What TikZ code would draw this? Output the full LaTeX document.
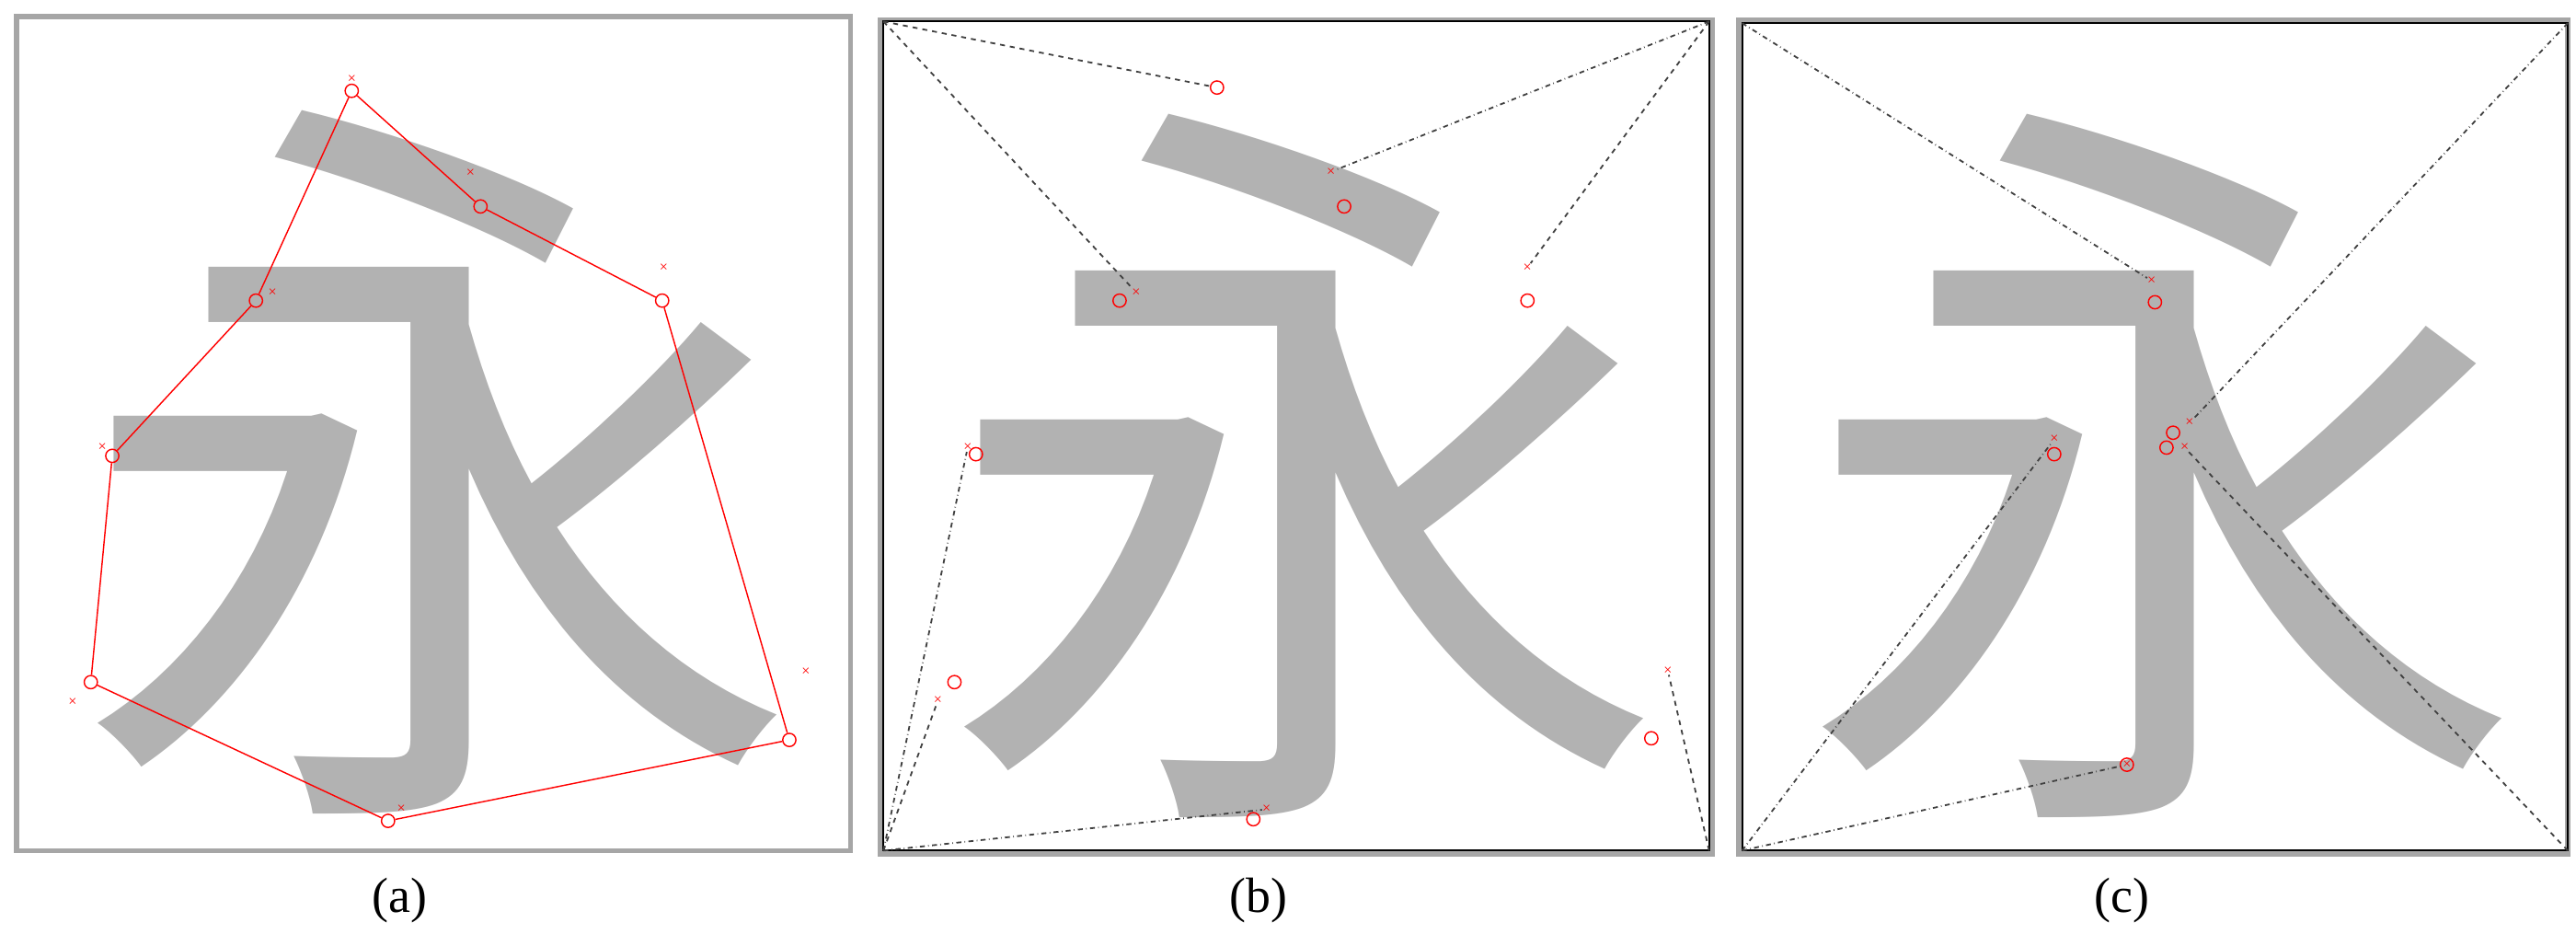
\documentclass[tikz,border=0pt]{standalone}
\usepackage{fontspec}
\setmainfont{Liberation Serif}
\newfontfamily\cjk{Noto Sans CJK SC}
\begin{document}
\begin{tikzpicture}[x=1pt,y=-1pt,
  frame/.style={draw=gray!70,line width=3pt},
  glyph/.style={text=gray!60,font=\cjk\fontsize{465}{465}\selectfont,inner sep=0},
  circ/.style={draw=red,circle,inner sep=0,minimum size=8pt,line width=0.8pt},
  crs/.style={text=red,font=\fontsize{9}{9}\selectfont,inner sep=0},
  dsh/.style={dashed,line width=1pt,black!75},
  dd/.style={dash dot,line width=1pt,black!75},
  lab/.style={font=\fontsize{30}{30}\selectfont}]
\useasboundingbox (0,0) rectangle (1560,565);
\fill[white] (0,0) rectangle (1560,565);
\draw[frame] (10,10) rectangle (515,515);
\draw[frame] (533,12) rectangle (1037,517);
\draw[frame] (1053,12) rectangle (1555,517);
\draw[black,line width=1pt] (535,13) rectangle (1035,515);
\draw[black,line width=1pt] (1055,14) rectangle (1555,515);
\node[glyph,xscale=0.95] (ga) at (265,280) {永};
\node[glyph,xscale=0.95] (gb) at (790,282) {永};
\node[glyph,xscale=0.95] (gc) at (1310,282) {永};
\node[lab] (la) at (242,545) {(a)};
\node[lab] (lb) at (762,545) {(b)};
\node[lab] (lc) at (1285,545) {(c)};
% (a)
\foreach \n/\p in {a1/{(213,55)},a2/{(291,125)},a3/{(401,182)},a4/{(478,448)},a5/{(235,497)},a6/{(55,413)},a7/{(68,276)},a8/{(155,182)}}
  \node[circ] (\n) at \p {};
\draw[red,line width=0.8pt] (a1)--(a2)--(a3)--(a4)--(a5)--(a6)--(a7)--(a8)--(a1);
\foreach \n/\p in {xa1/{(213,48)},xa2/{(285,105)},xa3/{(402,162)},xa4/{(488,407)},xa5/{(243,490)},xa6/{(44,425)},xa7/{(62,271)},xa8/{(165,177)}}
  \node[crs] (\n) at \p {×};
% (b)
\coordinate (bTL) at (535,13); \coordinate (bTR) at (1035,13);
\coordinate (bBL) at (535,515); \coordinate (bBR) at (1035,515);
\foreach \n/\p in {b1/{(737,53)},b2/{(814,125)},b3/{(678,182)},b4/{(925,182)},b5/{(591,275)},b6/{(578,413)},b7/{(759,496)},b8/{(1000,447)}}
  \node[circ] (\n) at \p {};
\foreach \n/\p in {xb2/{(806,104)},xb3/{(688,177)},xb4/{(925,162)},xb5/{(586,271)},xb6/{(568,424)},xb7/{(767,490)},xb8/{(1010,406)}}
  \node[crs] (\n) at \p {×};
\draw[dsh] (bTL)--(b1);
\draw[dsh] (bTL)--(xb3);
\draw[dd] (bTR)--(xb2);
\draw[dsh] (bTR)--(xb4);
\draw[dd] (bBL)--(xb5);
\draw[dsh] (bBL)--(xb6);
\draw[dd] (bBL)--(xb7);
\draw[dsh] (bBR)--(xb8);
% (c)
\coordinate (cTL) at (1055,14); \coordinate (cTR) at (1555,14);
\coordinate (cBL) at (1055,515); \coordinate (cBR) at (1555,515);
\foreach \n/\p in {c1/{(1305,183)},c2/{(1316,262)},c3/{(1312,271)},c4/{(1244,275)},c5/{(1288,463)}}
  \node[circ] (\n) at \p {};
\foreach \n/\p in {xc1/{(1303,170)},xc2/{(1326,256)},xc3/{(1323,271)},xc4/{(1244,266)},xc5/{(1288,463)}}
  \node[crs] (\n) at \p {×};
\draw[dd] (cTL)--(xc1);
\draw[dd] (cTR)--(xc2);
\draw[dd] (cBL)--(xc4);
\draw[dd] (cBL)--(xc5);
\draw[dsh] (cBR)--(xc3);
\end{tikzpicture}
\end{document}
